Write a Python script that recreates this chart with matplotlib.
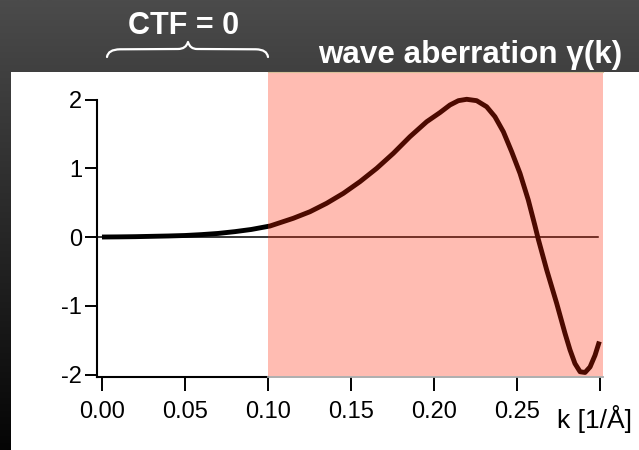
import numpy as np
import matplotlib
matplotlib.use('Agg')
import matplotlib.pyplot as plt
from matplotlib.path import Path
from matplotlib.patches import PathPatch, Rectangle

plt.rcParams['font.family'] = ['Liberation Sans', 'DejaVu Sans']

# ---- data ----
k = [0.000, 0.010, 0.020, 0.030, 0.040, 0.050, 0.060, 0.070, 0.080, 0.090,
     0.1012, 0.1072, 0.1152, 0.1253, 0.1353, 0.1454, 0.1554, 0.1655, 0.1755,
     0.1855, 0.1956, 0.2036, 0.2096, 0.2147, 0.2197, 0.2257, 0.2317, 0.2367,
     0.2418, 0.2468, 0.2518, 0.2568, 0.2608, 0.2628, 0.2679, 0.2739, 0.2789,
     0.2819, 0.2849, 0.2880, 0.2910, 0.2940, 0.2970, 0.2996]
gamma = [0.000, 0.002, 0.005, 0.010, 0.015, 0.022, 0.035, 0.052, 0.078, 0.110,
         0.160, 0.208, 0.272, 0.368, 0.490, 0.635, 0.805, 0.999, 1.217,
         1.459, 1.677, 1.810, 1.920, 1.983, 2.003, 1.983, 1.895, 1.750,
         1.530, 1.240, 0.926, 0.538, 0.165, -0.030, -0.480, -0.965, -1.400,
         -1.640, -1.840, -1.960, -1.970, -1.890, -1.720, -1.520]
xticks = [0.00, 0.05, 0.10, 0.15, 0.20, 0.25, 0.30]
xticklabels = ['0.00', '0.05', '0.10', '0.15', '0.20', '0.25', '']
yticks = [-2, -1, 0, 1, 2]
yticklabels = ['-2', '-1', '0', '1', '2']
ctf_zero_end = 0.10
k_end = 0.3018
xlim = (-0.003, k_end)
ylim = (-2.036, 2.40)

W, H = 639, 450
fig = plt.figure(figsize=(W / 100, H / 100), dpi=100)

# background gradient
bg = fig.add_axes([0, 0, 1, 1])
bg.axis('off')
grad = np.linspace(75, 5, 256)[:, None] / 255.0
img = np.dstack([grad, grad, grad])
bg.imshow(img, aspect='auto', extent=[0, 1, 0, 1], origin='upper')
bg.set_xlim(0, 1)
bg.set_ylim(0, 1)
bg.add_patch(Rectangle((11 / W, 0), 1 - 11 / W, (H - 72) / H,
                       facecolor='white', edgecolor='none',
                       transform=bg.transAxes, zorder=2))

# curly brace
def fp(x, y):
    return (x / W, (H - y) / H)
verts = [fp(107, 57), fp(108, 49.5), fp(120, 49.3), fp(178, 49),
         fp(186, 49), fp(188, 42), fp(190, 49), fp(197, 49),
         fp(256, 49.3), fp(267, 49.5), fp(268, 57)]
codes = [Path.MOVETO, Path.CURVE3, Path.CURVE3, Path.LINETO,
         Path.CURVE3, Path.CURVE3, Path.CURVE3, Path.CURVE3,
         Path.LINETO, Path.CURVE3, Path.CURVE3]
bg.add_patch(PathPatch(Path(verts, codes), facecolor='none', edgecolor='white',
                       lw=1.6, transform=bg.transAxes, zorder=3,
                       capstyle='round', joinstyle='round'))

fig.text(184 / W, (H - 34) / H, 'CTF = 0', color='white', fontsize=22,
         fontweight='bold', ha='center', va='baseline')
fig.text(470 / W, (H - 63) / H, 'wave aberration γ(k)', color='white',
         fontsize=22.6, fontweight='bold', ha='center', va='baseline')

# main axes
ax = fig.add_axes([97 / W, (H - 377) / H, (603 - 97) / W, (377 - 72) / H])
ax.patch.set_alpha(0)
ax.set_xlim(*xlim)
ax.set_ylim(*ylim)

ax.plot([xlim[0], 0.2988], [0, 0], color='black', lw=1.1, zorder=2)
ax.plot(k, gamma, color='black', lw=3.5, solid_joinstyle='round',
        solid_capstyle='butt', zorder=2.2)

ax.axvspan(ctf_zero_end, k_end, ymin=1.5 / 305, ymax=1, facecolor=(1.0, 0.133, 0.0),
           alpha=0.30, edgecolor='none', zorder=3)
ax.plot([ctf_zero_end, k_end], [ylim[1], ylim[1]], color='#d8c09a', lw=0.8,
        clip_on=False, zorder=3.5)
ax.plot([ctf_zero_end, k_end], [ylim[0], ylim[0]], color='#a8a8a8', lw=1.3,
        clip_on=False, zorder=3.5)

for s in ['top', 'right']:
    ax.spines[s].set_visible(False)
ax.spines['left'].set_bounds(ylim[0], 2)
ax.spines['bottom'].set_bounds(xlim[0], ctf_zero_end)
ax.spines['left'].set_linewidth(1.5)
ax.spines['bottom'].set_linewidth(1.5)

ax.set_xticks(xticks)
ax.set_xticklabels(xticklabels)
ax.set_yticks(yticks)
ax.set_yticklabels(yticklabels)
ax.tick_params(axis='x', direction='out', length=10, width=1.4, labelsize=17,
               pad=7, colors='black')
ax.tick_params(axis='y', direction='out', length=8.6, width=1.4, labelsize=17,
               pad=2, colors='black')

fig.text(557 / W, (H - 428) / H, 'k [1/Å]', color='black', fontsize=19,
         ha='left', va='baseline')

fig.savefig('out.png', dpi=100)
